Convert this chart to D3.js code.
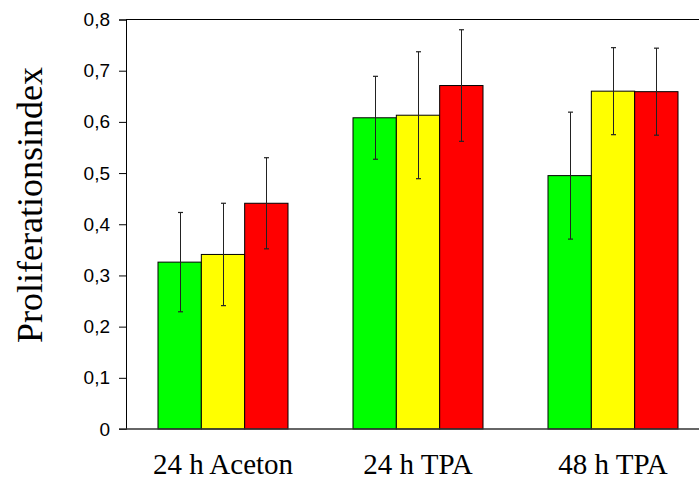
<!DOCTYPE html>
<html>
<head>
<meta charset="utf-8">
<script src="https://cdn.jsdelivr.net/npm/d3@7"></script>
<style>
  html, body { margin: 0; padding: 0; background: #fff; }
  svg { display: block; }
</style>
</head>
<body>
<svg id="chart" width="699" height="481"></svg>
<script>
const categories = ["24 h Aceton", "24 h TPA", "48 h TPA"];
const seriesNames = ["s1", "s2", "s3"];
const seriesColors = ["#00ff00", "#ffff00", "#ff0000"];
const meanValues = [
  [0.326, 0.341, 0.441],
  [0.608, 0.613, 0.671],
  [0.495, 0.660, 0.659]
];
const errorValues = [
  [0.097, 0.100, 0.089],
  [0.081, 0.124, 0.109],
  [0.124, 0.085, 0.085]
];
const yTicks = [0, 0.1, 0.2, 0.3, 0.4, 0.5, 0.6, 0.7, 0.8];
const yLabel = "Proliferationsindex";

(function () {
const svg = d3.select("#chart");
const mLeft = 126, mRight = 711, mTop = 19.5, mBottom = 429;

const x0 = d3.scaleBand().domain(categories).range([mLeft - 0.5, mRight - 0.5])
  .paddingInner(1/3).paddingOuter(1/6);
const x1 = d3.scaleBand().domain(seriesNames).range([0, x0.bandwidth()]);
const y = d3.scaleLinear().domain([0, 0.8]).range([mBottom, mTop]);

const groups = svg.append("g").selectAll("g").data(categories).join("g")
  .attr("transform", d => `translate(${x0(d)},0)`);

groups.each(function(cat, ci) {
  const g = d3.select(this);
  seriesNames.forEach((s, si) => {
    const v = meanValues[ci][si];
    g.append("rect")
      .attr("x", x1(s))
      .attr("y", y(v))
      .attr("width", x1.bandwidth())
      .attr("height", y(0) - y(v))
      .attr("fill", seriesColors[si])
      .attr("stroke", "#000")
      .attr("stroke-width", 1);
  });
  seriesNames.forEach((s, si) => {
    const v = meanValues[ci][si], e = errorValues[ci][si];
    const cx = Math.round(x1(s) + x1.bandwidth() / 2) + 0.5;
    g.append("line").attr("x1", cx).attr("x2", cx)
      .attr("y1", y(v + e)).attr("y2", y(v - e))
      .attr("stroke", "#222").attr("stroke-width", 1);
    [v + e, v - e].forEach(t => {
      g.append("line").attr("x1", cx - 2.5).attr("x2", cx + 2.5)
        .attr("y1", y(t)).attr("y2", y(t))
        .attr("stroke", "#222").attr("stroke-width", 1.2);
    });
  });
});

const yAxis = d3.axisLeft(y).tickValues(yTicks).tickSize(7).tickPadding(9)
  .tickFormat(d => d === 0 ? "0" : d3.format(".1f")(d).replace(".", ","));
const ya = svg.append("g").attr("transform", `translate(${mLeft},0)`).call(yAxis);
ya.select(".domain").attr("stroke", "#000");
ya.selectAll(".tick line").attr("stroke", "#000");
ya.selectAll(".tick text")
  .attr("font-family", "Liberation Sans, Arial, sans-serif")
  .attr("font-size", 19).attr("fill", "#000");

svg.append("line").attr("x1", mLeft).attr("x2", 699).attr("y1", y(0.8)).attr("y2", y(0.8))
  .attr("stroke", "#000").attr("stroke-width", 1);
svg.append("line").attr("x1", mLeft - 7).attr("x2", 699).attr("y1", y(0)).attr("y2", y(0))
  .attr("stroke", "#333").attr("stroke-width", 1.6);

svg.append("g").selectAll("text").data(categories).join("text")
  .attr("x", d => x0(d) + x0.bandwidth() / 2)
  .attr("y", 474)
  .attr("text-anchor", "middle")
  .attr("font-family", "Liberation Serif, Times New Roman, serif")
  .attr("font-size", 29)
  .attr("fill", "#000")
  .text(d => d);

svg.append("text")
  .attr("transform", "translate(42,205) rotate(-90)")
  .attr("text-anchor", "middle")
  .attr("font-family", "Liberation Serif, Times New Roman, serif")
  .attr("font-size", 36)
  .attr("fill", "#000")
  .text(yLabel);
})();
</script>
</body>
</html>
